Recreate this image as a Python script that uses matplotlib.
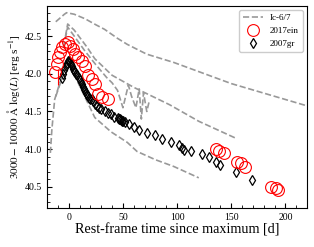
import numpy as np
import matplotlib
matplotlib.use("Agg")
import matplotlib.pyplot as plt

# ── data ─────────────────────────────────────────────────────────────────────
# Ic-6/7 template curves (grey dashed)
tmpl_a_t = [-12, -8, -4, -2, 5, 15, 25, 33, 45, 54, 72, 97, 150, 221]
tmpl_a_y = [42.69, 42.74, 42.79, 42.81, 42.79, 42.73, 42.65, 42.59, 42.47, 42.39, 42.26, 42.15, 41.87, 41.57]

tmpl_b_t = [-5, -1, 5, 15, 25, 35, 40, 45, 50, 55, 58, 62, 65, 67, 69, 72, 74]
tmpl_b_y = [42.35, 42.62, 42.5, 42.3, 42.12, 41.95, 41.88, 41.78, 41.55, 41.85, 41.7, 41.55, 41.8, 41.4, 41.75, 41.5, 41.62]

tmpl_c_t = [-3, -1, 5, 17, 24, 40, 60, 93, 120, 155]
tmpl_c_y = [42.5, 42.66, 42.58, 42.35, 42.2, 41.98, 41.82, 41.59, 41.37, 41.14]

tmpl_d_t = [-12, -6, -1, 8, 24, 39, 54, 63, 80, 97, 120]
tmpl_d_y = [41.7, 41.95, 42.18, 41.9, 41.42, 41.23, 41.09, 40.97, 40.86, 40.77, 40.62]

tmpl_e_t = [-17, -15.6, -13, -8, -2, 2, 10]
tmpl_e_y = [40.95, 41.26, 41.66, 41.89, 42.15, 42.1, 41.85]

# SN 2017ein
ein_t = [-12.8, -11, -10, -8.3, -6.4, -3.7, -0.9, 0.9, 3.7, 5.5, 8.3, 12, 14.7, 17.4,
         21, 23.9, 26.6, 31, 35.8, 136, 138.5, 143, 155, 158.7, 163, 187, 191, 193.6]
ein_y = [42.03, 42.13, 42.22, 42.29, 42.35, 42.39, 42.42, 42.37, 42.33, 42.26, 42.22, 42.17,
         42.1, 41.99, 41.93, 41.86, 41.73, 41.69, 41.66, 41.0, 40.97, 40.95, 40.83, 40.82,
         40.77, 40.5, 40.49, 40.46]

# SN 2007gr
gr_t = [-6, -5, -4, -3, -2, -1, 0, 1, 2, 3, 4, 5, 6, 7, 8, 9, 10, 11, 12, 13, 14, 15, 16,
        17, 18, 19, 20, 21, 22, 24, 26, 28, 30, 33, 36, 39, 42, 45, 46, 47, 48, 49, 50, 52,
        56, 60, 65, 72, 80, 86, 94, 102, 104.6, 106, 113, 123, 129, 136, 140, 154, 169]
gr_y = [41.95, 42.0, 42.05, 42.1, 42.14, 42.17, 42.17, 42.15, 42.13, 42.1, 42.07, 42.04,
        42.02, 42.0, 41.98, 41.95, 41.92, 41.89, 41.86, 41.83, 41.8, 41.77, 41.74, 41.72,
        41.7, 41.68, 41.67, 41.66, 41.64, 41.6, 41.57, 41.55, 41.53, 41.5, 41.48, 41.46,
        41.43, 41.41, 41.4, 41.4, 41.39, 41.38, 41.37, 41.36, 41.33, 41.29, 41.26, 41.22,
        41.19, 41.14, 41.09, 41.06, 41.02, 40.99, 40.97, 40.93, 40.89, 40.83, 40.79, 40.7,
        40.59]

# ── plot ─────────────────────────────────────────────────────────────────────
plt.rcParams["font.family"] = ["Liberation Serif", "DejaVu Serif"]
plt.rcParams["mathtext.fontset"] = "stix"

fig = plt.figure(figsize=(3.14, 2.47), dpi=100)
ax = fig.add_axes([0.15, 0.158, 0.828, 0.818])

grey = "#999999"
for i, (t, y) in enumerate([(tmpl_a_t, tmpl_a_y), (tmpl_b_t, tmpl_b_y), (tmpl_c_t, tmpl_c_y),
                            (tmpl_d_t, tmpl_d_y), (tmpl_e_t, tmpl_e_y)]):
    ax.plot(t, y, ls="--", color=grey, lw=1.2, label="Ic-6/7" if i == 0 else None)

ax.plot(gr_t, gr_y, ls="none", marker="d", ms=5, mfc="none", mec="k", mew=0.9, label="2007gr")
ax.plot(ein_t, ein_y, ls="none", marker="o", ms=8.5, mfc="none", mec="red", mew=0.8, label="2017ein")
ax.errorbar([ein_t[2]], [41.97], yerr=[[0.12], [0.1]], fmt="none", ecolor="red", lw=0.8)

ax.set_xlim(-20, 220)
ax.set_ylim(40.22, 42.9)
ax.set_xticks([0, 50, 100, 150, 200])
ax.set_yticks([40.5, 41.0, 41.5, 42.0, 42.5])
ax.minorticks_on()
ax.tick_params(which="both", direction="in", labelsize=7)
ax.tick_params(which="major", length=3.5)
ax.tick_params(which="minor", length=2)

ax.set_xlabel("Rest-frame time since maximum [d]", fontsize=10.2, labelpad=1)
ax.set_ylabel(r"$3000-10000\ \mathrm{\AA}\ \log(L)$ [erg s$^{-1}$]", fontsize=8, labelpad=2)

handles, labels = ax.get_legend_handles_labels()
order = [labels.index(l) for l in ["Ic-6/7", "2017ein", "2007gr"]]
ax.legend([handles[i] for i in order], [labels[i] for i in order], loc="upper right",
          fontsize=6.5, handlelength=2.2, borderpad=0.4, labelspacing=0.5, framealpha=1)

fig.savefig("out.png", dpi=100)
